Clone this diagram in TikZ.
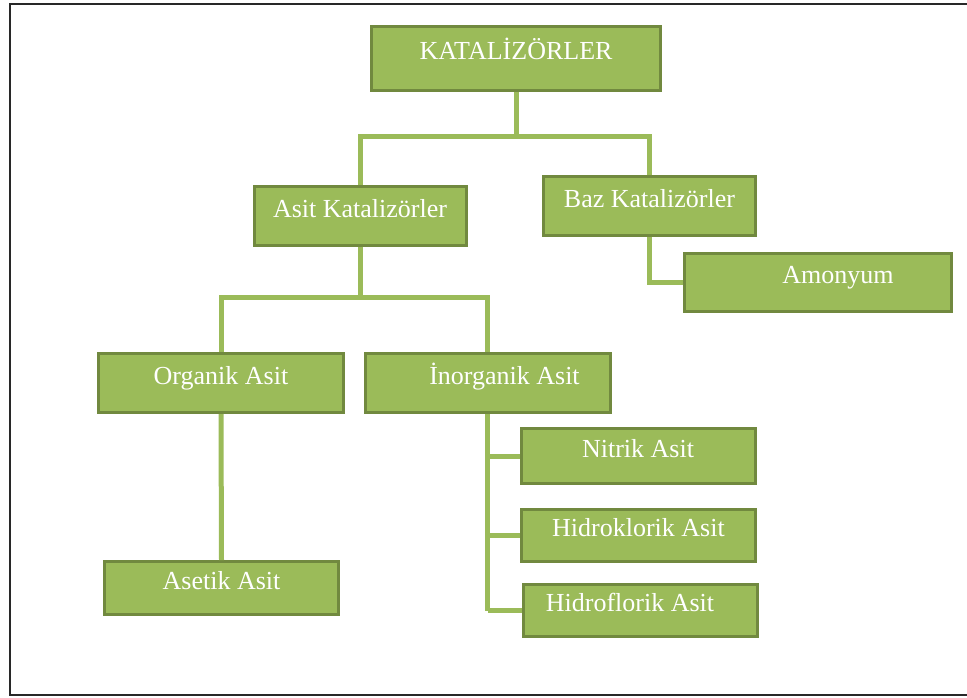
\documentclass[tikz,border=0pt]{standalone}
\usepackage{fontspec}
\setmainfont{Liberation Serif}
\usepackage{xcolor}
\definecolor{leafgreen}{RGB}{155,187,89}
\definecolor{darkleaf}{RGB}{113,137,63}
\definecolor{framegray}{RGB}{40,40,40}
\usetikzlibrary{calc}
\newcommand{\widthmid}{212pt}
\newcommand{\widthleaf}{234pt}
\newcommand{\heightmid}{59pt}
\tikzset{
    common/.style={draw=darkleaf, fill=leafgreen, line width=3pt, rectangle, inner sep=0pt,
        text=white, font=\fontsize{26}{30}\selectfont, text height=17pt, text depth=15pt},
    head/.style={common, minimum width=289pt, minimum height=64pt},
    mid/.style={common, minimum width=\widthmid, minimum height=\heightmid},
    sub/.style={common, minimum width=245pt, minimum height=\heightmid},
    leaf/.style={common, minimum width=\widthleaf, minimum height=53pt},
    link/.style={leafgreen, line width=5pt},
    frame/.style={framegray, line width=2.5pt}
}

\begin{document}
\begin{tikzpicture}[x=1pt, y=-1pt]
    \useasboundingbox (0,0) rectangle (967,697);
    \draw[frame] (10,4) rectangle (990,695);

    % tree boxes
    \node[head] (kat) at (516,58.5) {KATALİZÖRLER};
    \node[mid] (asit) at (360,216) {Asit Katalizörler};
    \node[mid] (baz) at (649.5,206) {Baz Katalizörler};
    \node[common, minimum width=267pt, minimum height=58pt] (amon) at (818,282.5) {\hspace*{40pt}Amonyum};
    \node[sub] (org) at (221,383) {Organik Asit};
    \node[sub] (inorg) at (487.5,383) {\hspace*{34pt}İnorganik Asit};
    \node[leaf, minimum height=55pt] (nit) at (638,456) {Nitrik Asit};
    \node[leaf, minimum height=52pt] (hcl) at (638.5,535.5) {Hidroklorik Asit};
    \node[leaf, minimum height=52pt] (hf) at (640,610.5) {Hidroflorik Asit\hspace*{20pt}};
    \node[leaf] (aset) at (221.5,588) {Asetik Asit};

    % connectors
    \draw[link] (kat.south) -- ++(0,44) coordinate (katbar) -| (asit.north);
    \draw[link] (katbar) -| (baz.north);
    \draw[link] (baz.south) |- (amon.west);
    \draw[link] (asit.south) -- ++(0,50) coordinate (asitbar) -| (org.north);
    \draw[link] (asitbar) -| (inorg.north);
    \draw[link] (org.south) -- (aset.north);
    \draw[link] (inorg.south) -- (inorg.south |- hf.west);
    \foreach \n in {nit,hcl,hf}
        \draw[link] (inorg.south |- \n.west) -- (\n.west);
\end{tikzpicture}
\end{document}
